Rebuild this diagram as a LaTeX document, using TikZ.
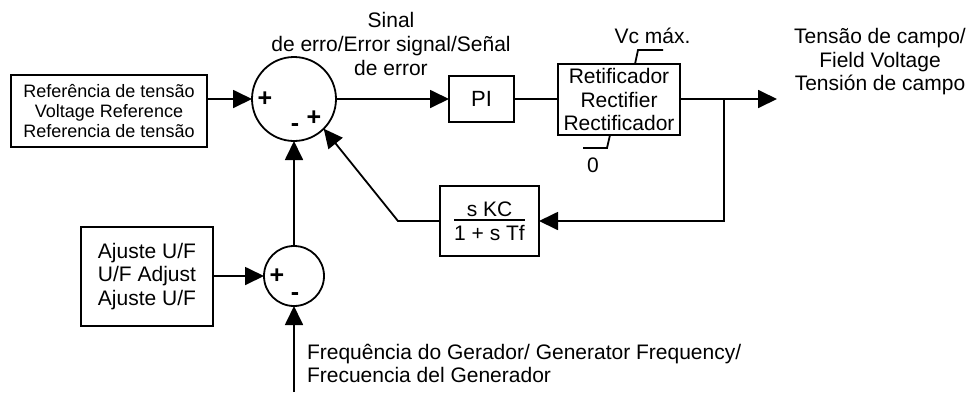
\documentclass[tikz,border=0pt]{standalone}
\usepackage{fontspec}
\setmainfont{Liberation Sans}
\usetikzlibrary{arrows.meta}
\begin{document}
\begin{tikzpicture}[x=1pt,y=-1pt,
  every node/.style={inner sep=0pt, outer sep=0pt},
  blk/.style={draw, line width=1.8pt, align=center, font=\fontsize{21}{23.5}\selectfont},
  sumnode/.style={draw, circle, line width=1.8pt},
  lbl/.style={align=center, font=\fontsize{21}{23.5}\selectfont},
  sgn/.style={font=\fontsize{25}{25}\selectfont\bfseries},
  conn/.style={line width=1.8pt},
  arr/.style={conn, -{Triangle[length=19pt,width=18pt]}},
]
\useasboundingbox (0,0) rectangle (968,392);

% blocks
\node[blk, minimum width=196, minimum height=72, font=\fontsize{18}{20}\selectfont] (ref) at (109,111) {Referência de tensão\\Voltage Reference\\Referencia de tensão};
\node[sumnode, minimum size=84] (s1) at (294,99) {};
\node[blk, minimum width=65, minimum height=46, font=\fontsize{22}{24}\selectfont] (pi) at (481.5,99) {PI};
\node[blk, minimum width=122, minimum height=71] (rect) at (619,99.5) {Retificador\\Rectifier\\Rectificador};
\node[blk, minimum width=99, minimum height=70] (fb) at (489.5,221) {{\renewcommand\arraystretch{0}\setlength\arrayrulewidth{2pt}\begin{tabular}{@{}c@{}}\rule[-3pt]{0pt}{3pt}s KC\\\hline\rule{0pt}{19pt}1 + s Tf\end{tabular}}};
\node[blk, minimum width=132, minimum height=99] (aj) at (147,276.5) {Ajuste U/F\\U/F Adjust\\Ajuste U/F};
\node[sumnode, minimum size=60] (s2) at (294,276) {};

% signs
\node[sgn] (p1) at (265,99) {+};
\node[sgn] (m1) at (295,128) {-};
\node[sgn] (p2) at (314,118) {+};
\node[sgn] (p3) at (277,276) {+};
\node[sgn] (m2) at (295,297) {-};

% labels
\node[lbl, font=\fontsize{21}{24}\selectfont] (err) at (391,43.5) {Sinal\\de erro/Error signal/Señal\\de error};
\node[lbl] (vout) at (880,62) {Tensão de campo/\\Field Voltage\\Tensión de campo};
\node[lbl, anchor=base] (vmax) at (652.5,43) {Vc máx.};
\node[lbl, anchor=base] (zero) at (593,172) {0};
\node[lbl, align=left, anchor=west] (freq) at (307,363.5) {Frequência do Gerador/ Generator Frequency/\\Frecuencia del Generador};

% coordinates
\coordinate (j) at (724,99);
\coordinate (out) at (777,99);
\coordinate (bend) at (398,221);
\coordinate (fin) at (294,392);

% connectors
\draw[arr] (ref.east |- s1.west) -- (s1.west);
\draw[arr] (s1.east) -- (pi.west);
\draw[conn] (pi.east) -- (pi.east -| rect.west);
\draw[arr] (out -| rect.east) -- (out);
\draw[arr] (j) -- (j |- fb.east) -- (fb.east);
\draw[arr] (fb.west) -- (bend) -- (s1.-45);
\draw[arr] (s2.north) -- (s1.south);
\draw[arr] (aj.east |- s2.west) -- (s2.west);
\draw[arr] (fin) -- (s2.south);

% limiter marks
\draw[conn] (635,64) -- (638,50) -- (663,50);
\draw[conn] (610,135) -- (607,148) -- (583,148);
\end{tikzpicture}
\end{document}
